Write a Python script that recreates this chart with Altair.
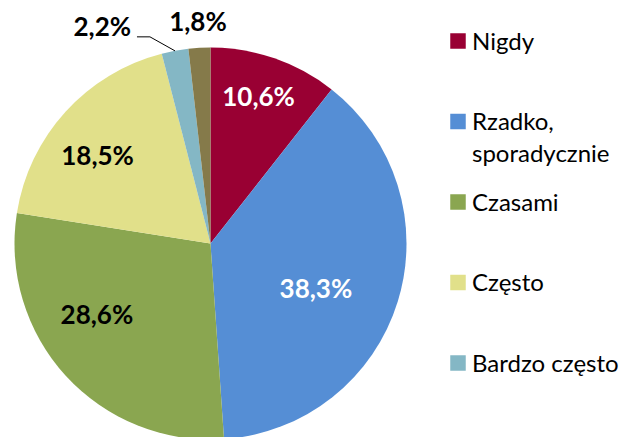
import altair as alt
import pandas as pd

# ---- data ----
categories = ["Nigdy", "Rzadko, sporadycznie", "Czasami", "Często", "Bardzo często", "Brak odpowiedzi"]
values = [10.6, 38.3, 28.6, 18.5, 2.2, 1.8]
legend_text = ["Nigdy", "Rzadko,\nsporadycznie", "Czasami", "Często", "Bardzo często", ""]
colors = ["#990033", "#558ED5", "#8AA650", "#E1E08A", "#84B7C5", "#857A4A"]

labels = [f"{v:.1f}%".replace(".", ",") for v in values]

df = pd.DataFrame({
    "cat": categories,
    "value": values,
    "ord": list(range(len(categories))),
    "label": labels,
    "legend": legend_text,
})

# ---- layout (chart coordinates) ----
CX, CY, R = 202.5, 235.6, 196
R_IN, R_OUT = 150, 222
nudge = {
    "Nigdy": (-1, -4),
    "Rzadko, sporadycznie": (-38, 2),
    "Czasami": (-3, -29),
    "Często": (-2, 14),
    "Bardzo często": (-68, 3),
    "Brak odpowiedzi": (0, 1),
}


def lookup(idx):
    expr = "0"
    for k, v in nudge.items():
        expr = f"datum.cat === '{k}' ? {v[idx]} : ({expr})"
    return expr


color_scale = alt.Scale(domain=categories, range=colors)

base = alt.Chart(df)

pie = base.mark_arc(radius=R).encode(
    theta=alt.Theta("value:Q", stack=True),
    order=alt.Order("ord:Q"),
    color=alt.Color("cat:N", scale=color_scale, legend=None),
    x=alt.value(CX),
    y=alt.value(CY),
)

geo = base.transform_joinaggregate(
    total="sum(value)"
).transform_window(
    cum="sum(value)", sort=[alt.SortField("ord")], frame=[None, 0]
).transform_calculate(
    mid="(datum.cum - datum.value / 2) / datum.total * 2 * PI",
    lr=f"datum.ord >= 4 ? {R_OUT} : {R_IN}",
).transform_calculate(
    lx=f"{CX} + datum.lr * sin(datum.mid) + ({lookup(0)})",
    ly=f"{CY} - datum.lr * cos(datum.mid) + ({lookup(1)})",
    p0x=f"{CX} + {R} * sin(datum.mid)",
    p0y=f"{CY} - {R} * cos(datum.mid)",
).transform_calculate(
    p1x="datum.p0x - 25",
    p1y="datum.p0y - 14",
    p2x="datum.p0x - 38",
)

pct = geo.mark_text(font="Lato", fontSize=26, fontWeight="bold", align="center", baseline="middle").encode(
    x=alt.X("lx:Q", scale=None, axis=None),
    y=alt.Y("ly:Q", scale=None, axis=None),
    text="label:N",
    color=alt.condition("datum.ord < 2", alt.value("white"), alt.value("black")),
)

lead1 = geo.transform_filter("datum.ord === 4").mark_rule(color="black", strokeWidth=1).encode(
    x=alt.X("p0x:Q", scale=None, axis=None),
    y=alt.Y("p0y:Q", scale=None, axis=None),
    x2="p1x:Q",
    y2="p1y:Q",
)
lead2 = geo.transform_filter("datum.ord === 4").mark_rule(color="black", strokeWidth=1).encode(
    x=alt.X("p1x:Q", scale=None, axis=None),
    y=alt.Y("p1y:Q", scale=None, axis=None),
    x2="p2x:Q",
    y2="p1y:Q",
)

leg_y = alt.Y("cat:N", sort=categories[:5],
              scale=alt.Scale(type="point", domain=categories[:5], range=[33, 355], padding=0),
              axis=None)

leg_sym = base.transform_filter("datum.ord < 5").mark_square(size=240, opacity=1).encode(
    x=alt.value(450),
    y=leg_y,
    color=alt.Color("cat:N", scale=color_scale, legend=None),
)
leg_txt = base.transform_filter("datum.ord < 5").mark_text(
    font="Lato", fontSize=24, align="left", baseline="alphabetic", dy=8.5,
    lineBreak="\n", lineHeight=32, color="black",
).encode(
    x=alt.value(464),
    y=leg_y,
    text="legend:N",
)

chart = alt.layer(pie, lead1, lead2, pct, leg_sym, leg_txt).resolve_scale(
    x="independent", y="independent"
).properties(
    width=616, height=429, padding=0,
    autosize=alt.AutoSizeParams(type="none"),
).configure_view(stroke=None)

chart.save("out.html", embed_options={"renderer": "svg", "actions": False})
